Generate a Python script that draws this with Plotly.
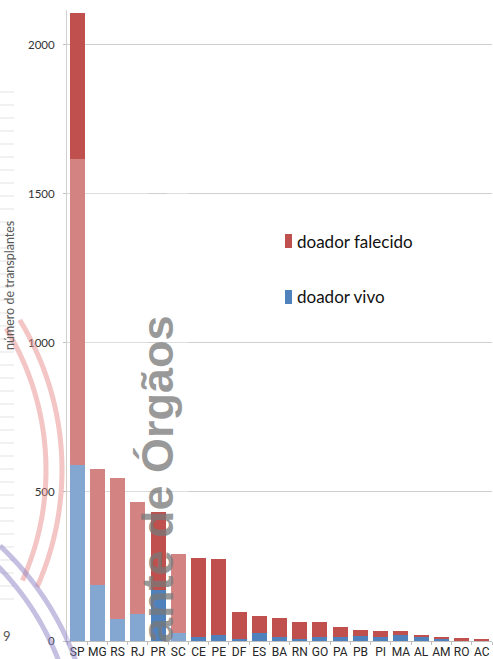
import numpy as np
import plotly.graph_objects as go

# ---- data ----
estados = ["SP", "MG", "RS", "RJ", "PR", "SC", "CE", "PE", "DF", "ES", "BA",
           "RN", "GO", "PA", "PB", "PI", "MA", "AL", "AM", "RO", "AC"]
doador_vivo = [590, 188, 73, 91, 171, 28, 12, 20, 6, 26, 15,
               6, 15, 12, 17, 15, 19, 12, 7, 1, 0]
doador_falecido = [1517, 389, 475, 376, 263, 264, 268, 254, 90, 59, 61,
                   59, 49, 34, 20, 17, 13, 7, 8, 9, 6]
y_ticks = [0, 500, 1000, 1500, 2000]

RED = "#c0504d"
BLUE = "#4f81bd"

W, H = 493, 659
L, R, T, B = 67, 1, 10, 18
PW, PH = W - L - R, H - T - B
X0, Y0 = L, H - B  # pixel position of plot origin


def px(xp):
    return (xp - X0) / PW


def py(yp):
    return (Y0 - yp) / PH


fig = go.Figure()
fig.add_trace(go.Bar(x=estados, y=doador_vivo, name="doador vivo",
                     marker=dict(color=BLUE, line=dict(width=0)), showlegend=False))
fig.add_trace(go.Bar(x=estados, y=doador_falecido, name="doador falecido",
                     marker=dict(color=RED, line=dict(width=0)), showlegend=False))

shapes = []
annotations = []

# faint background stripes at far left (part of screenshot background)
for k in range(40):
    yy = 92 + k * 13
    if yy > 600:
        break
    shapes.append(dict(type="line", xref="paper", yref="paper",
                       x0=px(0), x1=px(14), y0=py(yy), y1=py(yy),
                       line=dict(color="rgba(200,200,200,0.5)", width=1), layer="above"))


def arc_path(cx, cy, r, t0, t1, n=60):
    ts = np.linspace(t0, t1, n)
    pts = [(px(cx + r * np.cos(t)), py(cy + r * np.sin(t))) for t in ts]
    return "M" + " L".join(f"{a:.5f},{b:.5f}" for a, b in pts)


# watermark arcs (pink)
for r in (287, 271):
    shapes.append(dict(type="path", xref="paper", yref="paper",
                       path=arc_path(-225, 470, r, -0.55, 0.42),
                       line=dict(color="rgba(232,140,140,0.5)", width=5), layer="above"))
# watermark arcs (purple)
for r in (293, 277):
    shapes.append(dict(type="path", xref="paper", yref="paper",
                       path=arc_path(-200, 760, r, -0.82, -0.33),
                       line=dict(color="rgba(140,130,195,0.5)", width=5), layer="above"))

# whitish veil over left bars (watermark)
shapes.append(dict(type="rect", xref="paper", yref="paper",
                   x0=px(67), x1=px(148), y0=py(641), y1=py(159),
                   fillcolor="rgba(255,255,255,0.3)", line=dict(width=0), layer="above"))
shapes.append(dict(type="rect", xref="paper", yref="paper",
                   x0=px(167), x1=px(188), y0=py(641), y1=py(159),
                   fillcolor="rgba(255,255,255,0.3)", line=dict(width=0), layer="above"))

# legend (drawn)
for lab, col, yc in (("doador falecido", RED, 241), ("doador vivo", BLUE, 297)):
    shapes.append(dict(type="rect", xref="paper", yref="paper",
                       x0=px(285), x1=px(292), y0=py(yc + 7), y1=py(yc - 7),
                       fillcolor=col, line=dict(width=0)))
    annotations.append(dict(text=lab, xref="paper", yref="paper",
                            x=px(295), y=py(yc), xanchor="left", yanchor="middle",
                            showarrow=False, font=dict(family="Lato, sans-serif", size=17, color="#111111")))

# y-axis title
annotations.append(dict(text="número de transplantes", xref="paper", yref="paper",
                        x=px(9), y=py(286), xanchor="center", yanchor="middle",
                        textangle=-90, showarrow=False,
                        font=dict(family="Lato, sans-serif", size=12.5, color="#595959")))
# stray background digit
annotations.append(dict(text="9", xref="paper", yref="paper",
                        x=px(1), y=py(636), xanchor="left", yanchor="middle",
                        showarrow=False, font=dict(family="Lato, sans-serif", size=13, color="#555555")))
# watermark text
annotations.append(dict(text="<b>ante de Órgãos</b>", xref="paper", yref="paper",
                        x=px(157), y=py(479), xanchor="center", yanchor="middle",
                        textangle=-90, showarrow=False,
                        font=dict(family="Liberation Sans, Arial, sans-serif", size=45,
                                  color="rgba(120,120,120,0.75)")))

fig.update_layout(
    template="none",
    barmode="stack",
    bargap=0.26,
    width=W, height=H,
    margin=dict(l=L, r=R, t=T, b=B, pad=0, autoexpand=False),
    paper_bgcolor="white", plot_bgcolor="white",
    shapes=shapes, annotations=annotations,
    showlegend=False,
    xaxis=dict(
        type="category", showgrid=False, showline=True, linecolor="#bfbfbf", linewidth=1,
        ticks="outside", tickson="boundaries", ticklen=3, tickcolor="#bfbfbf",
        tickangle=0, automargin=False,
        tickfont=dict(family="Liberation Sans Narrow, Roboto, sans-serif",
                      size=12, color="#262626"),
        range=[-0.5, len(estados) - 0.5], fixedrange=True,
    ),
    yaxis=dict(
        range=[0, 2117], tickvals=y_ticks, ticktext=[str(v) for v in y_ticks],
        showgrid=True, gridcolor="#cfcfcf", gridwidth=1,
        showline=True, linecolor="#d0d0d0", linewidth=1,
        ticks="outside", ticklen=3, tickcolor="#bfbfbf", automargin=False,
        tickfont=dict(family="Lato, sans-serif", size=11.5, color="#333333"),
        zeroline=False, fixedrange=True, ticklabelstandoff=6,
    ),
)

fig.write_html(
    "out.html",
    config={"displayModeBar": False, "staticPlot": True},
    post_script="document.body.style.margin='0';document.body.style.padding='0';"
                "document.body.style.overflow='hidden';",
)
